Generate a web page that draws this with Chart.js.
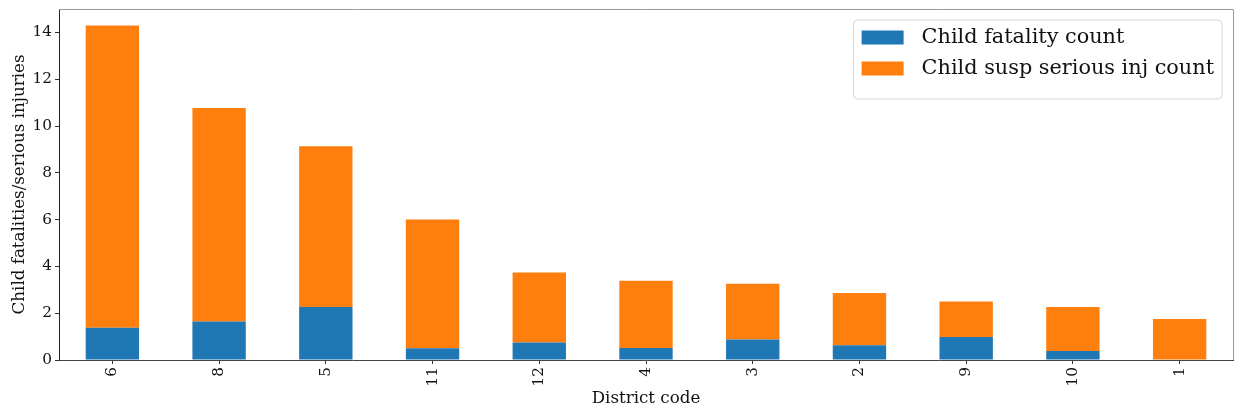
<!DOCTYPE html>
<html>
<head>
<meta charset="utf-8">
<script src="https://cdn.jsdelivr.net/npm/chart.js@4/dist/chart.umd.min.js"></script>
<style>
  html, body { margin: 0; padding: 0; background: #fff; }
  #wrap { width: 1236px; height: 412px; }
</style>
</head>
<body>
<div id="wrap"><canvas id="c" width="1236" height="412"></canvas></div>
<script>
const districts = ['6', '8', '5', '11', '12', '4', '3', '2', '9', '10', '1'];
const fatalityCount = [1.38, 1.64, 2.26, 0.50, 0.75, 0.51, 0.88, 0.63, 0.98, 0.38, 0.00];
const seriousInjCount = [12.92, 9.13, 6.87, 5.50, 2.99, 2.88, 2.38, 2.23, 1.52, 1.88, 1.75];
const seriesNames = ['Child fatality count', 'Child susp serious inj count'];
const seriesColors = ['#1f77b4', '#ff7f0e'];
const yTitle = 'Child fatalities/serious injuries';
const xTitle = 'District code';

const FONT = "'DejaVu Serif', serif";

const framePlugin = {
  id: 'frame',
  afterDraw(chart) {
    const { ctx, chartArea: a } = chart;
    ctx.save();
    ctx.strokeStyle = '#9a9a9a';
    ctx.lineWidth = 1;
    ctx.beginPath();
    ctx.moveTo(a.left, a.top + 0.5);
    ctx.lineTo(a.right + 0.5, a.top + 0.5);
    ctx.lineTo(a.right + 0.5, a.bottom);
    ctx.stroke();
    ctx.restore();
  }
};

const legendPlugin = {
  id: 'innerLegend',
  afterDraw(chart) {
    const { ctx, chartArea: a } = chart;
    ctx.save();
    ctx.font = '20.8px ' + FONT;
    const textW = Math.max(...chart.data.datasets.map(d => ctx.measureText(d.label).width));
    const swW = 42, swH = 14, gap = 18, padX = 8, rowH = 31, padTop = 10;
    const boxW = padX + swW + gap + textW + padX;
    const boxH = padTop + rowH * chart.data.datasets.length + 7;
    const right = a.right - 11;
    const left = right - boxW;
    const top = a.top + 11;
    const r = 4;
    ctx.beginPath();
    ctx.moveTo(left + r, top);
    ctx.lineTo(left + boxW - r, top);
    ctx.quadraticCurveTo(left + boxW, top, left + boxW, top + r);
    ctx.lineTo(left + boxW, top + boxH - r);
    ctx.quadraticCurveTo(left + boxW, top + boxH, left + boxW - r, top + boxH);
    ctx.lineTo(left + r, top + boxH);
    ctx.quadraticCurveTo(left, top + boxH, left, top + boxH - r);
    ctx.lineTo(left, top + r);
    ctx.quadraticCurveTo(left, top, left + r, top);
    ctx.closePath();
    ctx.fillStyle = 'rgba(255,255,255,0.8)';
    ctx.fill();
    ctx.strokeStyle = '#d6d6d6';
    ctx.lineWidth = 1;
    ctx.stroke();
    chart.data.datasets.forEach((d, i) => {
      const cy = top + padTop + rowH * i + swH / 2 + 0.5;
      ctx.fillStyle = d.backgroundColor;
      ctx.fillRect(left + padX, cy - swH / 2, swW, swH);
      ctx.fillStyle = '#111';
      ctx.textBaseline = 'middle';
      ctx.textAlign = 'left';
      ctx.fillText(d.label, left + padX + swW + gap, cy);
    });
    ctx.restore();
  }
};

function zeroPad(scale) {
  scale.paddingTop = 0;
  scale.paddingBottom = 0;
  scale.paddingLeft = 0;
  scale.paddingRight = 0;
}

new Chart(document.getElementById('c'), {
  type: 'bar',
  data: {
    labels: districts,
    datasets: [
      { label: seriesNames[0], data: fatalityCount, backgroundColor: seriesColors[0], borderWidth: 0 },
      { label: seriesNames[1], data: seriousInjCount, backgroundColor: seriesColors[1], borderWidth: 0 }
    ]
  },
  options: {
    responsive: false,
    animation: false,
    layout: { padding: { left: 0, right: 3, top: 9, bottom: 0 } },
    datasets: { bar: { categoryPercentage: 1.0, barPercentage: 0.5 } },
    plugins: {
      legend: { display: false },
      tooltip: { enabled: false }
    },
    scales: {
      x: {
        stacked: true,
        afterFit(scale) { scale.height = 52; zeroPad(scale); },
        grid: { display: true, offset: false, drawOnChartArea: false, drawTicks: true, tickLength: 4, tickColor: '#333', lineWidth: 1 },
        border: { display: true, color: '#444', width: 1 },
        ticks: { color: '#111', font: { family: FONT, size: 15.3 }, minRotation: 90, maxRotation: 90, padding: 3, autoSkip: false },
        title: { display: true, text: xTitle, color: '#111', font: { family: FONT, size: 16.7 }, padding: { top: 0, bottom: 3 } }
      },
      y: {
        stacked: true,
        min: 0,
        max: 15,
        afterFit(scale) { scale.width = 59; zeroPad(scale); },
        grid: { display: true, drawOnChartArea: false, drawTicks: true, tickLength: 4, tickColor: '#333', lineWidth: 1 },
        border: { display: true, color: '#222', width: 1 },
        ticks: { stepSize: 2, includeBounds: false, color: '#111', font: { family: FONT, size: 15.3 }, padding: 3 },
        title: { display: true, text: yTitle, color: '#111', font: { family: FONT, size: 16.7 }, padding: { top: 10, bottom: 0 } }
      }
    }
  },
  plugins: [framePlugin, legendPlugin]
});
</script>
</body>
</html>
